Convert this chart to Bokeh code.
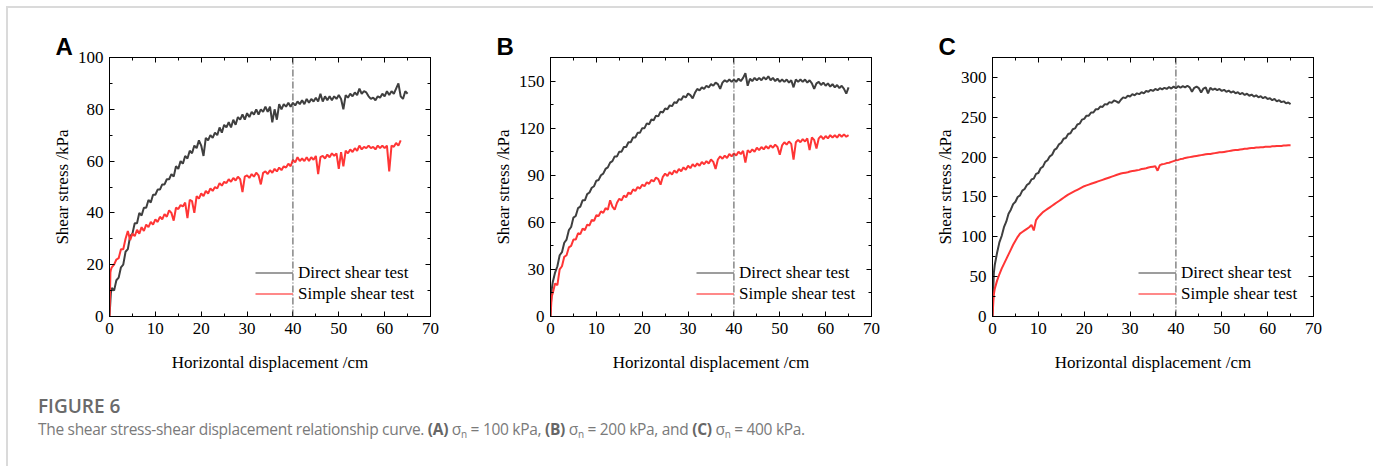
from bokeh.plotting import figure
from bokeh.models import (Range1d, LinearAxis, SingleIntervalTicker, Span, Legend,
                          LegendItem, Div, CustomJSTickFormatter)
from bokeh.layouts import row, column
from bokeh.embed import file_html
from bokeh.resources import INLINE

# ---------------- data ----------------
X = [0, 0.1, 0.2, 0.3, 0.5,
     1, 1.5, 2, 2.5, 3, 3.5, 4, 4.5, 5, 5.5,
     6, 6.5, 7, 7.5, 8, 8.5, 9, 9.5, 10, 10.5,
     11, 11.5, 12, 12.5, 13, 13.5, 14, 14.5, 15, 15.5,
     16, 16.5, 17, 17.5, 18, 18.5, 19, 19.5, 20, 20.5,
     21, 21.5, 22, 22.5, 23, 23.5, 24, 24.5, 25, 25.5,
     26, 26.5, 27, 27.5, 28, 28.5, 29, 29.5, 30, 30.5,
     31, 31.5, 32, 32.5, 33, 33.5, 34, 34.5, 35, 35.5,
     36, 36.5, 37, 37.5, 38, 38.5, 39, 39.5, 40, 40.5,
     41, 41.5, 42, 42.5, 43, 43.5, 44, 44.5, 45, 45.5,
     46, 46.5, 47, 47.5, 48, 48.5, 49, 49.5, 50, 50.5,
     51, 51.5, 52, 52.5, 53, 53.5, 54, 54.5, 55, 55.5,
     56, 56.5, 57, 57.5, 58, 58.5, 59, 59.5, 60, 60.5,
     61, 61.5, 62, 62.5, 63, 63.5, 64, 64.5, 65]

# Panel A (sigma_n = 100 kPa)
A_DIRECT = [0, 3, 6, 9, 11,
    10, 14, 15, 19, 20, 25, 26, 31, 32, 36,
    36, 40, 39, 42, 42, 45, 44, 47, 47, 49,
    49, 51, 51, 53, 53, 55, 54, 58, 57, 60,
    59, 62, 61, 64, 63, 66, 65, 68, 66, 62,
    69, 68, 70, 69, 71, 70, 73, 71, 74, 73,
    75, 73, 76, 74, 77, 76, 78, 76, 78.5, 77,
    79, 78, 80, 78, 80, 79, 81, 79, 81, 75,
    80, 76, 82, 80, 82, 81, 82.5, 81, 82.5, 81.5,
    83, 82, 83.5, 82, 84, 82.5, 84, 83, 84.5, 83,
    86, 83, 85, 83.5, 85, 83.5, 85, 84, 85.5, 84,
    80, 85.5, 84.5, 86, 85, 86.5, 85.5, 88, 86, 87,
    86.5, 85, 84, 84.5, 83.5, 85, 84.5, 86, 85, 87,
    85.5, 87, 86, 88, 90, 85, 84, 87, 86]
A_SIMPLE = [0, 8, 17, 18, 19,
    20, 22, 22.5, 26, 26, 30, 33, 29.5, 32, 31,
    33.5, 32, 34.5, 33, 35.5, 34.5, 36.5, 35.5, 37.5, 36.5,
    38.5, 37.5, 39.5, 38.5, 41, 40, 37, 42, 41.5, 43,
    42.5, 44, 38, 45, 44.5, 40, 46.5, 45.5, 47.5, 46.5,
    48.5, 47.5, 49.5, 48.5, 50, 49.5, 51.5, 50.5, 52, 51.5,
    53, 52, 53.5, 52.5, 54, 53, 48, 54, 54.5, 53.5,
    55, 54, 55.5, 54.5, 51, 55.5, 56, 55, 56.5, 55.5,
    57, 56, 57.5, 56.5, 58, 57.5, 59, 58, 60.5, 59.5,
    61.5, 60, 61, 60, 61.5, 60, 61.5, 60.5, 62, 55,
    61.5, 62, 61, 62.5, 61.5, 63, 62, 63, 57, 63.5,
    58, 64, 63, 64.5, 63.5, 65, 64, 66, 64.5, 65.5,
    65, 66, 65, 65.5, 64.5, 66, 65, 66, 65, 66,
    56, 66, 65.5, 67, 66, 68]

# Panel B (sigma_n = 200 kPa)
B_DIRECT = [0, 8, 14, 18, 22,
    28, 32, 39, 41, 47, 49, 55, 57, 63, 64,
    69, 70, 74, 74, 78, 79, 82, 83, 86.5, 87,
    90, 91, 94, 95, 98, 99, 102, 102, 105, 105,
    108, 108, 111, 111, 114, 114, 117, 117, 120, 120,
    123, 122.5, 125.5, 125, 128, 127.5, 130.5, 130, 132.5, 132,
    134.5, 134, 136.5, 136, 138.5, 138, 140.5, 139.5, 142, 141,
    139, 142.5, 145, 144, 146, 145, 147, 146, 148, 147,
    149, 148, 145, 149, 150.5, 149.5, 151, 149.5, 151, 149.5,
    151.5, 150, 152, 155, 147, 151.5, 150, 152, 150.5, 152,
    150.5, 152.5, 151, 153, 150.5, 152, 150, 151.5, 149.5, 151,
    149.5, 151, 149, 150.5, 146, 151, 149.5, 151, 149.5, 151,
    149, 150.5, 148.5, 145, 148.5, 149.5, 147.5, 149, 147, 148.5,
    146.5, 148, 146, 147.5, 145.5, 147, 145, 142, 146]
B_SIMPLE = [0, 5, 10, 13, 15,
    21, 20, 30, 32, 38, 39, 44, 45, 49, 49,
    53, 52.5, 56, 55, 58.5, 58, 61.5, 61, 64.5, 64,
    67, 66, 69, 68, 74, 70, 68, 72.5, 75, 74,
    77, 76, 79, 78, 81, 80, 82.5, 81.5, 84, 83,
    85.5, 84.5, 87, 86, 88.5, 87.5, 84, 89, 91, 89.5,
    92, 90.5, 93, 91.5, 94, 92.5, 95, 93.5, 96, 94.5,
    97, 95.5, 97.5, 96, 98.5, 97, 99, 97.5, 100, 98.5,
    94, 100, 102, 100.5, 102.5, 101, 103.5, 102, 104, 102.5,
    105, 103.5, 105.5, 98, 106, 104.5, 106.5, 105, 107.5, 106,
    108, 106.5, 108.5, 107, 109, 107.5, 109.5, 108, 103, 109,
    111, 109.5, 111.5, 110, 100, 111, 112.5, 111, 113, 111.5,
    113.5, 106, 114, 112.5, 107, 113.5, 115, 113, 115, 113.5,
    115.5, 114, 115.5, 114, 116, 114.5, 116, 114.5, 115.5]

# Panel C (sigma_n = 400 kPa)
C_DIRECT = [0, 20, 40, 55, 65,
    80, 93, 101, 112, 119, 129, 134, 141, 144, 150,
    152, 158, 160, 165, 167, 172, 173, 179, 180, 186,
    188, 194, 196, 201, 203, 209, 211, 216, 218, 223,
    224, 229, 230, 235, 236, 241, 242, 247, 248, 252,
    252, 256, 256, 260, 260, 263.5, 263, 266.5, 266, 269,
    268, 271, 270, 268, 272, 275, 274, 277, 276, 279,
    277.5, 280, 279, 281.5, 280, 283, 282, 284.5, 283, 285.5,
    284, 286.5, 285, 287, 285.5, 288, 286, 288.5, 286.5, 289,
    287, 289, 287.5, 289.5, 287.5, 282, 287, 288.5, 286.5, 281,
    286, 287.5, 280, 287, 284.5, 286, 284, 285.5, 283, 284.5,
    282, 283.5, 281, 282.5, 280, 281.5, 279, 280.5, 278, 279.5,
    277, 278.5, 276, 277.5, 275, 276.5, 274, 275.5, 273, 274,
    271.5, 273, 270, 271.5, 269, 270, 267.5, 268.5, 266.5]
C_SIMPLE = [0, 10, 20, 28, 35,
    45, 53, 60, 66, 72, 78, 84, 90, 95, 100,
    104, 106, 108, 110, 112, 115, 108, 121, 125, 128,
    131, 133, 135, 137, 139, 141, 143, 145, 147, 149,
    151, 153, 154.5, 156, 157.5, 159, 160.5, 162, 163.5, 164.5,
    165.5, 166.5, 167.5, 168.5, 169.5, 170.5, 171.5, 172.5, 173.5, 174.5,
    175.5, 176.5, 177.5, 178.5, 179.5, 180, 180.5, 181, 182, 182.5,
    183, 183.5, 184, 185, 185.5, 186, 187, 187.5, 188, 188.5,
    183, 190, 191, 191.5, 192.5, 193, 194, 195, 196, 196.5,
    197.5, 198, 199, 199.5, 200, 200.5, 201, 201.5, 202, 202.5,
    203, 203.5, 204, 204, 204.5, 205, 205.5, 206, 206, 206.5,
    207, 207.5, 208, 208.5, 209, 209, 209.5, 210, 210.5, 210.5,
    211, 211.5, 211.5, 212, 212, 212.5, 212.5, 213, 213, 213,
    213.5, 213.5, 214, 214, 214, 214.5, 214.5, 215, 215]

PANELS = ["A", "B", "C"]
Y_MAX = [100, 165, 325]
Y_STEP = [20, 30, 50]
X_MAX = 70
X_STEP = 10
PEAK_X = 40
SERIES_NAMES = ["Direct shear test", "Simple shear test"]
CAPTION_HEAD = "FIGURE 6"
CAPTION_TEXT = "The shear stress-shear displacement relationship curve."
SIGMA_N = ["100", "200", "400"]

DIRECTS = [A_DIRECT, B_DIRECT, C_DIRECT]
SIMPLES = [A_SIMPLE, B_SIMPLE, C_SIMPLE]

GRAY = "#3f3f3f"
RED = "#ff3535"
SERIF = "Liberation Serif"
NAN = float("nan")


def style_axis(ax, show_labels=True):
    ax.axis_line_color = "black"
    ax.axis_line_width = 1
    ax.major_tick_in = 5
    ax.major_tick_out = 0
    ax.minor_tick_in = 3
    ax.minor_tick_out = 0
    ax.major_tick_line_color = "black"
    ax.minor_tick_line_color = "black"
    ax.major_label_text_font = SERIF
    ax.major_label_text_font_size = "17px"
    ax.major_label_text_color = "black"
    ax.major_label_standoff = 6
    ax.axis_label_text_font = SERIF
    ax.axis_label_text_font_size = "17px"
    ax.axis_label_text_font_style = "normal"
    ax.axis_label_text_color = "black"
    if not show_labels:
        ax.formatter = CustomJSTickFormatter(code="return ''")
        ax.major_label_text_font_size = "0px"
        ax.major_label_standoff = 0


def make_panel(i, width, left, right):
    p = figure(width=width, height=372,
               x_range=Range1d(0, X_MAX), y_range=Range1d(0, Y_MAX[i]),
               output_backend="svg", toolbar_location=None,
               x_axis_type=None, y_axis_type=None,
               min_border_left=left, min_border_right=right,
               min_border_top=49, min_border_bottom=64,
               title=PANELS[i])
    p.outline_line_color = "black"
    p.background_fill_color = "white"
    p.border_fill_color = "white"
    p.title.align = "left"
    p.title.offset = -54
    p.title.text_font = "Liberation Sans"
    p.title.text_font_style = "bold"
    p.title.text_font_size = "24px"
    p.title.text_color = "black"
    p.title.standoff = -4

    xb = LinearAxis(ticker=SingleIntervalTicker(interval=X_STEP, num_minor_ticks=2),
                    axis_label="Horizontal displacement /cm")
    style_axis(xb)
    xb.axis_label_standoff = 16
    yl = LinearAxis(ticker=SingleIntervalTicker(interval=Y_STEP[i], num_minor_ticks=2),
                    axis_label="Shear stress /kPa")
    style_axis(yl)
    yl.axis_label_standoff = 3
    xt = LinearAxis(ticker=SingleIntervalTicker(interval=X_STEP, num_minor_ticks=2))
    style_axis(xt, False)
    yr = LinearAxis(ticker=SingleIntervalTicker(interval=Y_STEP[i], num_minor_ticks=2))
    style_axis(yr, False)
    p.add_layout(xb, "below")
    p.add_layout(yl, "left")
    p.add_layout(xt, "above")
    p.add_layout(yr, "right")

    d = DIRECTS[i]
    s = SIMPLES[i]
    p.line(X[:len(d)], d, line_color=GRAY, line_width=2)
    p.line(X[:len(s)], s, line_color=RED, line_width=2)

    p.add_layout(Span(location=PEAK_X, dimension="height", line_color="#4a4a4a",
                      line_width=1, line_dash="7 2 1 2"))

    lg_d = p.line([NAN], [NAN], line_color="#7d7d7d", line_width=1.6)
    lg_s = p.line([NAN], [NAN], line_color="#ff6262", line_width=1.6)
    legend = Legend(items=[LegendItem(label=SERIES_NAMES[0], renderers=[lg_d]),
                           LegendItem(label=SERIES_NAMES[1], renderers=[lg_s])],
                    location=(146, 12))
    legend.padding = 0
    legend.margin = 0
    legend.spacing = 0
    legend.glyph_width = 38
    legend.glyph_height = 21
    legend.label_height = 21
    legend.label_standoff = 5
    legend.label_text_font = SERIF
    legend.label_text_font_size = "17px"
    legend.label_text_color = "black"
    legend.border_line_color = None
    legend.background_fill_alpha = 0
    p.add_layout(legend)
    return p


pA = make_panel(0, 442, 101, 20)
pB = make_panel(1, 441, 100, 20)
pC = make_panel(2, 475, 101, 53)

sub = '<sub style="font-size:10px;line-height:0;vertical-align:-3px">n</sub>'
parts = []
for letter, val in zip(PANELS, SIGMA_N):
    parts.append(f'<b style="color:#666">({letter})</b> &sigma;{sub} = {val} kPa')
cap_line = f"{CAPTION_TEXT} {parts[0]}, {parts[1]}, and {parts[2]}."
html = (
    '<div style="font-family:\'Open Sans\',sans-serif;padding-left:25px;padding-top:9px;">'
    f'<div style="font-weight:600;font-size:19px;line-height:24px;color:#6a6a6a;">{CAPTION_HEAD}</div>'
    f'<div style="font-size:15.5px;line-height:22px;letter-spacing:-0.3px;color:#7a7a7a;white-space:nowrap;">{cap_line}</div>'
    '</div>'
)
cap = Div(text=html, width=1358, height=78)

layout = column(row(pA, pB, pC), cap,
                styles={"margin-left": "6px", "margin-top": "6px",
                        "border-top": "2px solid #dadada",
                        "border-left": "2px solid #dadada",
                        "border-right": "2px solid #dadada",
                        "background": "white"})

open("out.html", "w").write(file_html(layout, INLINE))
